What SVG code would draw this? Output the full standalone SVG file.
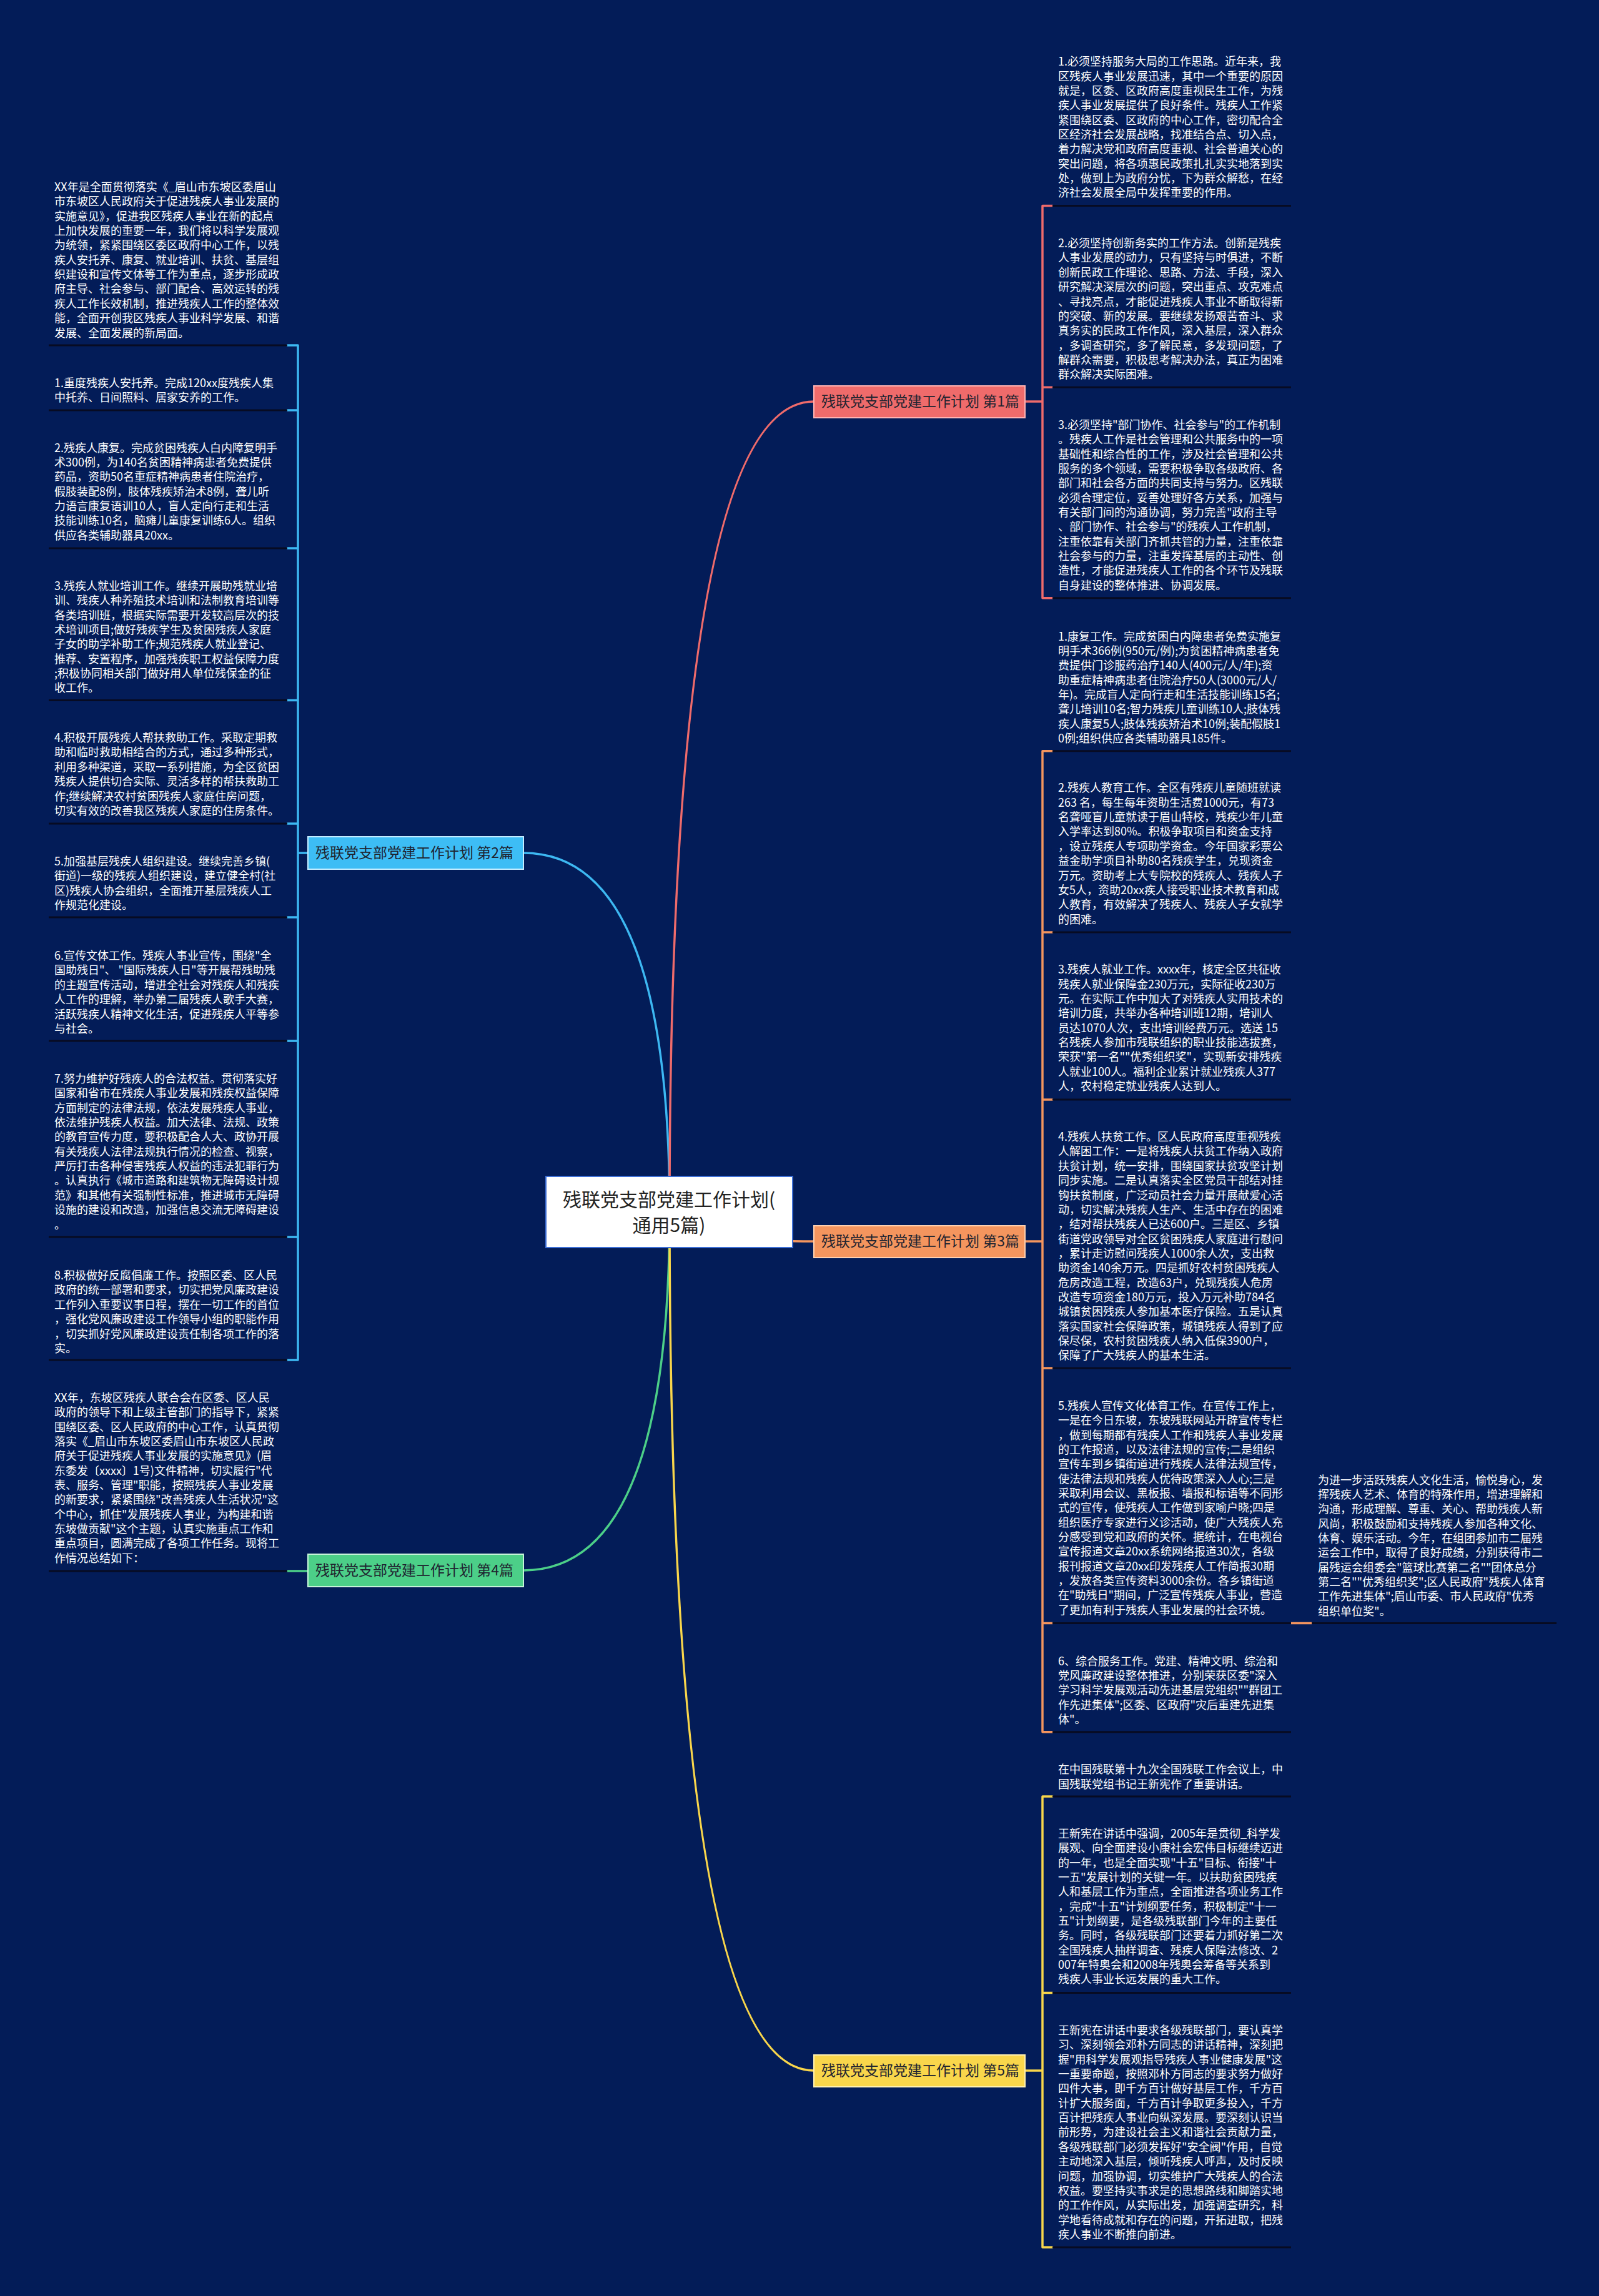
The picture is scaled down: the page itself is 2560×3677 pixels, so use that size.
<svg xmlns="http://www.w3.org/2000/svg" width="2560" height="3677" viewBox="0 0 2560 3677">
<style>
.t{font-family:"Noto Sans CJK SC","Noto Sans",sans-serif;font-size:18px;fill:#ffffff}
.ul{stroke:#070b22;stroke-width:3;fill:none}
.c{fill:none;stroke-width:3.5;stroke-linecap:round}
.bl{stroke:#3db8f2}.rd{stroke:#ef6b6b}.or{stroke:#f4955e}.gr{stroke:#4ccf88}.ye{stroke:#f9d64b}
.bn{font-family:"Noto Sans CJK SC","Noto Sans",sans-serif;font-size:23px;fill:#1f2430}
.cn{font-family:"Noto Sans CJK SC","Noto Sans",sans-serif;font-size:30px;fill:#222222;text-anchor:middle}
</style>
<rect x="0" y="0" width="2560" height="3677" fill="#031c58"/>

<g id="connectors">
<path class="c bl" d="M1072,1941 Q1072,1366 838,1366"/>
<path class="c rd" d="M1072,1941 Q1072,643 1303,643"/>
<path class="c or" d="M1072,1941 Q1072,1988 1303,1988"/>
<path class="c gr" d="M1072,1941 Q1072,2515 838,2515"/>
<path class="c ye" d="M1072,1941 Q1072,3316 1303,3316"/>
<!-- left bar 2 -->
<path class="c bl" d="M477,553 L477,2178 M460,553 H477 M460,657 H477 M460,878 H477 M460,1121.5 H477 M460,1319 H477 M460,1469 H477 M460,1667 H477 M460,1981 H477 M460,2178 H477 M477,1366 H493"/>
<path class="c gr" d="M460,2516 H493"/>
<!-- right bar 1 -->
<path class="c rd" d="M1669,329.5 V957.8 M1669,329.5 H1685 M1669,620.3 H1685 M1669,957.8 H1685 M1641,643 H1669"/>
<!-- right bar 3 -->
<path class="c or" d="M1669,1202.7 V2773.7 M1669,1202.7 H1685 M1669,1493 H1685 M1669,1761 H1685 M1669,2191 H1685 M1669,2599.6 H1685 M1669,2773.7 H1685 M1641,1988 H1669 M2067,2599.6 H2100"/>
<!-- right bar 5 -->
<path class="c ye" d="M1669,2877 V3599 M1669,2877 H1685 M1669,3191.5 H1685 M1669,3599 H1685 M1641,3316 H1669"/>
<!-- underlines -->
<path class="ul" d="M78,553 H460 M78,657 H460 M78,878 H460 M78,1121.5 H460 M78,1319 H460 M78,1469 H460 M78,1667 H460 M78,1981 H460 M78,2178 H460 M78,2516 H460"/>
<path class="ul" d="M1685,329.5 H2067 M1685,620.3 H2067 M1685,957.8 H2067 M1685,1202.7 H2067 M1685,1493 H2067 M1685,1761 H2067 M1685,2191 H2067 M1685,2599.6 H2067 M1685,2773.7 H2067 M1685,2877 H2067 M1685,3191.5 H2067 M1685,3599 H2067 M2100,2599.6 H2492"/>
</g>

<g id="center">
<rect x="874" y="1884" width="395" height="114" fill="#ffffff" stroke="#3d6fd6" stroke-width="2"/>
<text class="cn" x="1071" y="1932">残联党支部党建工作计划(</text>
<text class="cn" x="1071" y="1973">通用5篇)</text>
</g>

<g id="branch1">
<rect x="1303" y="618" width="338" height="51" fill="#ef6b6b" stroke="#ffb3b3" stroke-width="2"/>
<text class="bn" x="1315" y="651">残联党支部党建工作计划 第1篇</text>
</g>
<g id="branch2">
<rect x="493" y="1340" width="345" height="52" fill="#3dbdf5" stroke="#c4ecff" stroke-width="2"/>
<text class="bn" x="505" y="1374">残联党支部党建工作计划 第2篇</text>
</g>
<g id="branch3">
<rect x="1303" y="1963" width="338" height="51" fill="#f4955e" stroke="#ffd0b0" stroke-width="2"/>
<text class="bn" x="1315" y="1996">残联党支部党建工作计划 第3篇</text>
</g>
<g id="branch4">
<rect x="493" y="2489" width="345" height="52" fill="#4ccf88" stroke="#c4f4d8" stroke-width="2"/>
<text class="bn" x="505" y="2523">残联党支部党建工作计划 第4篇</text>
</g>
<g id="branch5">
<rect x="1303" y="3291" width="338" height="51" fill="#f9d64b" stroke="#fff0b0" stroke-width="2"/>
<text class="bn" x="1315" y="3324">残联党支部党建工作计划 第5篇</text>
</g>

<g id="l-intro"><text class="t" x="87" y="306"><tspan x="87">XX年是全面贯彻落实《_眉山市东坡区委眉山</tspan><tspan x="87" dy="23.35">市东坡区人民政府关于促进残疾人事业发展的</tspan><tspan x="87" dy="23.35">实施意见》，促进我区残疾人事业在新的起点</tspan><tspan x="87" dy="23.35">上加快发展的重要一年，我们将以科学发展观</tspan><tspan x="87" dy="23.35">为统领，紧紧围绕区委区政府中心工作，以残</tspan><tspan x="87" dy="23.35">疾人安托养、康复、就业培训、扶贫、基层组</tspan><tspan x="87" dy="23.35">织建设和宣传文体等工作为重点，逐步形成政</tspan><tspan x="87" dy="23.35">府主导、社会参与、部门配合、高效运转的残</tspan><tspan x="87" dy="23.35">疾人工作长效机制，推进残疾人工作的整体效</tspan><tspan x="87" dy="23.35">能，全面开创我区残疾人事业科学发展、和谐</tspan><tspan x="87" dy="23.35">发展、全面发展的新局面。</tspan></text></g>

<g id="l-1"><text class="t" x="87" y="619.5"><tspan x="87">1.重度残疾人安托养。完成120xx度残疾人集</tspan><tspan x="87" dy="23.35">中托养、日间照料、居家安养的工作。</tspan></text></g>

<g id="l-2"><text class="t" x="87" y="723.6"><tspan x="87">2.残疾人康复。完成贫困残疾人白内障复明手</tspan><tspan x="87" dy="23.35">术300例，为140名贫困精神病患者免费提供</tspan><tspan x="87" dy="23.35">药品，资助50名重症精神病患者住院治疗，</tspan><tspan x="87" dy="23.35">假肢装配8例，肢体残疾矫治术8例，聋儿听</tspan><tspan x="87" dy="23.35">力语言康复语训10人，盲人定向行走和生活</tspan><tspan x="87" dy="23.35">技能训练10名，脑瘫儿童康复训练6人。组织</tspan><tspan x="87" dy="23.35">供应各类辅助器具20xx。</tspan></text></g>

<g id="l-3"><text class="t" x="87" y="944.9"><tspan x="87">3.残疾人就业培训工作。继续开展助残就业培</tspan><tspan x="87" dy="23.35">训、残疾人种养殖技术培训和法制教育培训等</tspan><tspan x="87" dy="23.35">各类培训班，根据实际需要开发较高层次的技</tspan><tspan x="87" dy="23.35">术培训项目;做好残疾学生及贫困残疾人家庭</tspan><tspan x="87" dy="23.35">子女的助学补助工作;规范残疾人就业登记、</tspan><tspan x="87" dy="23.35">推荐、安置程序，加强残疾职工权益保障力度</tspan><tspan x="87" dy="23.35">;积极协同相关部门做好用人单位残保金的征</tspan><tspan x="87" dy="23.35">收工作。</tspan></text></g>

<g id="l-4"><text class="t" x="87" y="1188.1"><tspan x="87">4.积极开展残疾人帮扶救助工作。采取定期救</tspan><tspan x="87" dy="23.35">助和临时救助相结合的方式，通过多种形式，</tspan><tspan x="87" dy="23.35">利用多种渠道，采取一系列措施，为全区贫困</tspan><tspan x="87" dy="23.35">残疾人提供切合实际、灵活多样的帮扶救助工</tspan><tspan x="87" dy="23.35">作;继续解决农村贫困残疾人家庭住房问题，</tspan><tspan x="87" dy="23.35">切实有效的改善我区残疾人家庭的住房条件。</tspan></text></g>

<g id="l-5"><text class="t" x="87" y="1385.8"><tspan x="87">5.加强基层残疾人组织建设。继续完善乡镇(</tspan><tspan x="87" dy="23.35">街道)一级的残疾人组织建设，建立健全村(社</tspan><tspan x="87" dy="23.35">区)残疾人协会组织，全面推开基层残疾人工</tspan><tspan x="87" dy="23.35">作规范化建设。</tspan></text></g>

<g id="l-6"><text class="t" x="87" y="1537.1"><tspan x="87">6.宣传文体工作。残疾人事业宣传，围绕"全</tspan><tspan x="87" dy="23.35">国助残日"、 "国际残疾人日"等开展帮残助残</tspan><tspan x="87" dy="23.35">的主题宣传活动，增进全社会对残疾人和残疾</tspan><tspan x="87" dy="23.35">人工作的理解，举办第二届残疾人歌手大赛，</tspan><tspan x="87" dy="23.35">活跃残疾人精神文化生活，促进残疾人平等参</tspan><tspan x="87" dy="23.35">与社会。</tspan></text></g>

<g id="l-7"><text class="t" x="87" y="1734"><tspan x="87">7.努力维护好残疾人的合法权益。贯彻落实好</tspan><tspan x="87" dy="23.35">国家和省市在残疾人事业发展和残疾权益保障</tspan><tspan x="87" dy="23.35">方面制定的法律法规，依法发展残疾人事业，</tspan><tspan x="87" dy="23.35">依法维护残疾人权益。加大法律、法规、政策</tspan><tspan x="87" dy="23.35">的教育宣传力度，要积极配合人大、政协开展</tspan><tspan x="87" dy="23.35">有关残疾人法律法规执行情况的检查、视察，</tspan><tspan x="87" dy="23.35">严厉打击各种侵害残疾人权益的违法犯罪行为</tspan><tspan x="87" dy="23.35">。认真执行《城市道路和建筑物无障碍设计规</tspan><tspan x="87" dy="23.35">范》和其他有关强制性标准，推进城市无障碍</tspan><tspan x="87" dy="23.35">设施的建设和改造，加强信息交流无障碍建设</tspan><tspan x="87" dy="23.35">。</tspan></text></g>

<g id="l-8"><text class="t" x="87" y="2049.1"><tspan x="87">8.积极做好反腐倡廉工作。按照区委、区人民</tspan><tspan x="87" dy="23.35">政府的统一部署和要求，切实把党风廉政建设</tspan><tspan x="87" dy="23.35">工作列入重要议事日程，摆在一切工作的首位</tspan><tspan x="87" dy="23.35">，强化党风廉政建设工作领导小组的职能作用</tspan><tspan x="87" dy="23.35">，切实抓好党风廉政建设责任制各项工作的落</tspan><tspan x="87" dy="23.35">实。</tspan></text></g>

<g id="l-xx"><text class="t" x="87" y="2244.8"><tspan x="87">XX年，东坡区残疾人联合会在区委、区人民</tspan><tspan x="87" dy="23.35">政府的领导下和上级主管部门的指导下，紧紧</tspan><tspan x="87" dy="23.35">围绕区委、区人民政府的中心工作，认真贯彻</tspan><tspan x="87" dy="23.35">落实《_眉山市东坡区委眉山市东坡区人民政</tspan><tspan x="87" dy="23.35">府关于促进残疾人事业发展的实施意见》(眉</tspan><tspan x="87" dy="23.35">东委发〔xxxx〕1号)文件精神，切实履行"代</tspan><tspan x="87" dy="23.35">表、服务、管理"职能，按照残疾人事业发展</tspan><tspan x="87" dy="23.35">的新要求，紧紧围绕"改善残疾人生活状况"这</tspan><tspan x="87" dy="23.35">个中心，抓住"发展残疾人事业，为构建和谐</tspan><tspan x="87" dy="23.35">东坡做贡献"这个主题，认真实施重点工作和</tspan><tspan x="87" dy="23.35">重点项目，圆满完成了各项工作任务。现将工</tspan><tspan x="87" dy="23.35">作情况总结如下：</tspan></text></g>

<g id="r1-1"><text class="t" x="1694" y="105.2"><tspan x="1694">1.必须坚持服务大局的工作思路。近年来，我</tspan><tspan x="1694" dy="23.35">区残疾人事业发展迅速，其中一个重要的原因</tspan><tspan x="1694" dy="23.35">就是，区委、区政府高度重视民生工作，为残</tspan><tspan x="1694" dy="23.35">疾人事业发展提供了良好条件。残疾人工作紧</tspan><tspan x="1694" dy="23.35">紧围绕区委、区政府的中心工作，密切配合全</tspan><tspan x="1694" dy="23.35">区经济社会发展战略，找准结合点、切入点，</tspan><tspan x="1694" dy="23.35">着力解决党和政府高度重视、社会普遍关心的</tspan><tspan x="1694" dy="23.35">突出问题，将各项惠民政策扎扎实实地落到实</tspan><tspan x="1694" dy="23.35">处，做到上为政府分忧，下为群众解愁，在经</tspan><tspan x="1694" dy="23.35">济社会发展全局中发挥重要的作用。</tspan></text></g>

<g id="r1-2"><text class="t" x="1694" y="396.1"><tspan x="1694">2.必须坚持创新务实的工作方法。创新是残疾</tspan><tspan x="1694" dy="23.35">人事业发展的动力，只有坚持与时俱进，不断</tspan><tspan x="1694" dy="23.35">创新民政工作理论、思路、方法、手段，深入</tspan><tspan x="1694" dy="23.35">研究解决深层次的问题，突出重点、攻克难点</tspan><tspan x="1694" dy="23.35">、寻找亮点，才能促进残疾人事业不断取得新</tspan><tspan x="1694" dy="23.35">的突破、新的发展。要继续发扬艰苦奋斗、求</tspan><tspan x="1694" dy="23.35">真务实的民政工作作风，深入基层，深入群众</tspan><tspan x="1694" dy="23.35">，多调查研究，多了解民意，多发现问题，了</tspan><tspan x="1694" dy="23.35">解群众需要，积极思考解决办法，真正为困难</tspan><tspan x="1694" dy="23.35">群众解决实际困难。</tspan></text></g>

<g id="r1-3"><text class="t" x="1694" y="686.8"><tspan x="1694">3.必须坚持"部门协作、社会参与"的工作机制</tspan><tspan x="1694" dy="23.35">。残疾人工作是社会管理和公共服务中的一项</tspan><tspan x="1694" dy="23.35">基础性和综合性的工作，涉及社会管理和公共</tspan><tspan x="1694" dy="23.35">服务的多个领域，需要积极争取各级政府、各</tspan><tspan x="1694" dy="23.35">部门和社会各方面的共同支持与努力。区残联</tspan><tspan x="1694" dy="23.35">必须合理定位，妥善处理好各方关系，加强与</tspan><tspan x="1694" dy="23.35">有关部门间的沟通协调，努力完善"政府主导</tspan><tspan x="1694" dy="23.35">、部门协作、社会参与"的残疾人工作机制，</tspan><tspan x="1694" dy="23.35">注重依靠有关部门齐抓共管的力量，注重依靠</tspan><tspan x="1694" dy="23.35">社会参与的力量，注重发挥基层的主动性、创</tspan><tspan x="1694" dy="23.35">造性，才能促进残疾人工作的各个环节及残联</tspan><tspan x="1694" dy="23.35">自身建设的整体推进、协调发展。</tspan></text></g>

<g id="r3-1"><text class="t" x="1694" y="1025.5"><tspan x="1694">1.康复工作。完成贫困白内障患者免费实施复</tspan><tspan x="1694" dy="23.35">明手术366例(950元/例);为贫困精神病患者免</tspan><tspan x="1694" dy="23.35">费提供门诊服药治疗140人(400元/人/年);资</tspan><tspan x="1694" dy="23.35">助重症精神病患者住院治疗50人(3000元/人/</tspan><tspan x="1694" dy="23.35">年)。完成盲人定向行走和生活技能训练15名;</tspan><tspan x="1694" dy="23.35">聋儿培训10名;智力残疾儿童训练10人;肢体残</tspan><tspan x="1694" dy="23.35">疾人康复5人;肢体残疾矫治术10例;装配假肢1</tspan><tspan x="1694" dy="23.35">0例;组织供应各类辅助器具185件。</tspan></text></g>

<g id="r3-2"><text class="t" x="1694" y="1268.4"><tspan x="1694">2.残疾人教育工作。全区有残疾儿童随班就读</tspan><tspan x="1694" dy="23.35">263 名，每生每年资助生活费1000元，有73</tspan><tspan x="1694" dy="23.35">名聋哑盲儿童就读于眉山特校，残疾少年儿童</tspan><tspan x="1694" dy="23.35">入学率达到80%。积极争取项目和资金支持</tspan><tspan x="1694" dy="23.35">，设立残疾人专项助学资金。今年国家彩票公</tspan><tspan x="1694" dy="23.35">益金助学项目补助80名残疾学生，兑现资金</tspan><tspan x="1694" dy="23.35">万元。资助考上大专院校的残疾人、残疾人子</tspan><tspan x="1694" dy="23.35">女5人，资助20xx疾人接受职业技术教育和成</tspan><tspan x="1694" dy="23.35">人教育，有效解决了残疾人、残疾人子女就学</tspan><tspan x="1694" dy="23.35">的困难。</tspan></text></g>

<g id="r3-3"><text class="t" x="1694" y="1559.2"><tspan x="1694">3.残疾人就业工作。xxxx年，核定全区共征收</tspan><tspan x="1694" dy="23.35">残疾人就业保障金230万元，实际征收230万</tspan><tspan x="1694" dy="23.35">元。在实际工作中加大了对残疾人实用技术的</tspan><tspan x="1694" dy="23.35">培训力度，共举办各种培训班12期，培训人</tspan><tspan x="1694" dy="23.35">员达1070人次，支出培训经费万元。选送 15</tspan><tspan x="1694" dy="23.35">名残疾人参加市残联组织的职业技能选拔赛，</tspan><tspan x="1694" dy="23.35">荣获"第一名""优秀组织奖"，实现新安排残疾</tspan><tspan x="1694" dy="23.35">人就业100人。福利企业累计就业残疾人377</tspan><tspan x="1694" dy="23.35">人，农村稳定就业残疾人达到人。</tspan></text></g>

<g id="r3-4"><text class="t" x="1694" y="1827.1"><tspan x="1694">4.残疾人扶贫工作。区人民政府高度重视残疾</tspan><tspan x="1694" dy="23.35">人解困工作：一是将残疾人扶贫工作纳入政府</tspan><tspan x="1694" dy="23.35">扶贫计划，统一安排，围绕国家扶贫攻坚计划</tspan><tspan x="1694" dy="23.35">同步实施。二是认真落实全区党员干部结对挂</tspan><tspan x="1694" dy="23.35">钩扶贫制度，广泛动员社会力量开展献爱心活</tspan><tspan x="1694" dy="23.35">动，切实解决残疾人生产、生活中存在的困难</tspan><tspan x="1694" dy="23.35">，结对帮扶残疾人已达600户。三是区、乡镇</tspan><tspan x="1694" dy="23.35">街道党政领导对全区贫困残疾人家庭进行慰问</tspan><tspan x="1694" dy="23.35">，累计走访慰问残疾人1000余人次，支出救</tspan><tspan x="1694" dy="23.35">助资金140余万元。四是抓好农村贫困残疾人</tspan><tspan x="1694" dy="23.35">危房改造工程，改造63户，兑现残疾人危房</tspan><tspan x="1694" dy="23.35">改造专项资金180万元，投入万元补助784名</tspan><tspan x="1694" dy="23.35">城镇贫困残疾人参加基本医疗保险。五是认真</tspan><tspan x="1694" dy="23.35">落实国家社会保障政策，城镇残疾人得到了应</tspan><tspan x="1694" dy="23.35">保尽保，农村贫困残疾人纳入低保3900户，</tspan><tspan x="1694" dy="23.35">保障了广大残疾人的基本生活。</tspan></text></g>

<g id="r3-5"><text class="t" x="1694" y="2257.9"><tspan x="1694">5.残疾人宣传文化体育工作。在宣传工作上，</tspan><tspan x="1694" dy="23.35">一是在今日东坡，东坡残联网站开辟宣传专栏</tspan><tspan x="1694" dy="23.35">，做到每期都有残疾人工作和残疾人事业发展</tspan><tspan x="1694" dy="23.35">的工作报道，以及法律法规的宣传;二是组织</tspan><tspan x="1694" dy="23.35">宣传车到乡镇街道进行残疾人法律法规宣传，</tspan><tspan x="1694" dy="23.35">使法律法规和残疾人优待政策深入人心;三是</tspan><tspan x="1694" dy="23.35">采取利用会议、黑板报、墙报和标语等不同形</tspan><tspan x="1694" dy="23.35">式的宣传，使残疾人工作做到家喻户晓;四是</tspan><tspan x="1694" dy="23.35">组织医疗专家进行义诊活动，使广大残疾人充</tspan><tspan x="1694" dy="23.35">分感受到党和政府的关怀。据统计，在电视台</tspan><tspan x="1694" dy="23.35">宣传报道文章20xx系统网络报道30次，各级</tspan><tspan x="1694" dy="23.35">报刊报道文章20xx印发残疾人工作简报30期</tspan><tspan x="1694" dy="23.35">，发放各类宣传资料3000余份。各乡镇街道</tspan><tspan x="1694" dy="23.35">在"助残日"期间，广泛宣传残疾人事业，营造</tspan><tspan x="1694" dy="23.35">了更加有利于残疾人事业发展的社会环境。</tspan></text></g>

<g id="r3-5-1"><text class="t" x="2110" y="2376.5"><tspan x="2110">为进一步活跃残疾人文化生活，愉悦身心，发</tspan><tspan x="2110" dy="23.35">挥残疾人艺术、体育的特殊作用，增进理解和</tspan><tspan x="2110" dy="23.35">沟通，形成理解、尊重、关心、帮助残疾人新</tspan><tspan x="2110" dy="23.35">风尚，积极鼓励和支持残疾人参加各种文化、</tspan><tspan x="2110" dy="23.35">体育、娱乐活动。今年，在组团参加市二届残</tspan><tspan x="2110" dy="23.35">运会工作中，取得了良好成绩，分别获得市二</tspan><tspan x="2110" dy="23.35">届残运会组委会"篮球比赛第二名""团体总分</tspan><tspan x="2110" dy="23.35">第二名""优秀组织奖";区人民政府"残疾人体育</tspan><tspan x="2110" dy="23.35">工作先进集体";眉山市委、市人民政府"优秀</tspan><tspan x="2110" dy="23.35">组织单位奖"。</tspan></text></g>

<g id="r3-6"><text class="t" x="1694" y="2666.5"><tspan x="1694">6、综合服务工作。党建、精神文明、综治和</tspan><tspan x="1694" dy="23.35">党风廉政建设整体推进，分别荣获区委"深入</tspan><tspan x="1694" dy="23.35">学习科学发展观活动先进基层党组织""群团工</tspan><tspan x="1694" dy="23.35">作先进集体";区委、区政府"灾后重建先进集</tspan><tspan x="1694" dy="23.35">体"。</tspan></text></g>

<g id="r5-1"><text class="t" x="1694" y="2840.3"><tspan x="1694">在中国残联第十九次全国残联工作会议上，中</tspan><tspan x="1694" dy="23.35">国残联党组书记王新宪作了重要讲话。</tspan></text></g>

<g id="r5-2"><text class="t" x="1694" y="2942.8"><tspan x="1694">王新宪在讲话中强调，2005年是贯彻_科学发</tspan><tspan x="1694" dy="23.35">展观、向全面建设小康社会宏伟目标继续迈进</tspan><tspan x="1694" dy="23.35">的一年，也是全面实现"十五"目标、衔接"十</tspan><tspan x="1694" dy="23.35">一五"发展计划的关键一年。以扶助贫困残疾</tspan><tspan x="1694" dy="23.35">人和基层工作为重点，全面推进各项业务工作</tspan><tspan x="1694" dy="23.35">，完成"十五"计划纲要任务，积极制定"十一</tspan><tspan x="1694" dy="23.35">五"计划纲要，是各级残联部门今年的主要任</tspan><tspan x="1694" dy="23.35">务。同时，各级残联部门还要着力抓好第二次</tspan><tspan x="1694" dy="23.35">全国残疾人抽样调查、残疾人保障法修改、2</tspan><tspan x="1694" dy="23.35">007年特奥会和2008年残奥会筹备等关系到</tspan><tspan x="1694" dy="23.35">残疾人事业长远发展的重大工作。</tspan></text></g>

<g id="r5-3"><text class="t" x="1694" y="3258"><tspan x="1694">王新宪在讲话中要求各级残联部门，要认真学</tspan><tspan x="1694" dy="23.35">习、深刻领会邓朴方同志的讲话精神，深刻把</tspan><tspan x="1694" dy="23.35">握"用科学发展观指导残疾人事业健康发展"这</tspan><tspan x="1694" dy="23.35">一重要命题，按照邓朴方同志的要求努力做好</tspan><tspan x="1694" dy="23.35">四件大事，即千方百计做好基层工作，千方百</tspan><tspan x="1694" dy="23.35">计扩大服务面，千方百计争取更多投入，千方</tspan><tspan x="1694" dy="23.35">百计把残疾人事业向纵深发展。要深刻认识当</tspan><tspan x="1694" dy="23.35">前形势，为建设社会主义和谐社会贡献力量，</tspan><tspan x="1694" dy="23.35">各级残联部门必须发挥好"安全阀"作用，自觉</tspan><tspan x="1694" dy="23.35">主动地深入基层，倾听残疾人呼声，及时反映</tspan><tspan x="1694" dy="23.35">问题，加强协调，切实维护广大残疾人的合法</tspan><tspan x="1694" dy="23.35">权益。要坚持实事求是的思想路线和脚踏实地</tspan><tspan x="1694" dy="23.35">的工作作风，从实际出发，加强调查研究，科</tspan><tspan x="1694" dy="23.35">学地看待成就和存在的问题，开拓进取，把残</tspan><tspan x="1694" dy="23.35">疾人事业不断推向前进。</tspan></text></g>
</svg>
